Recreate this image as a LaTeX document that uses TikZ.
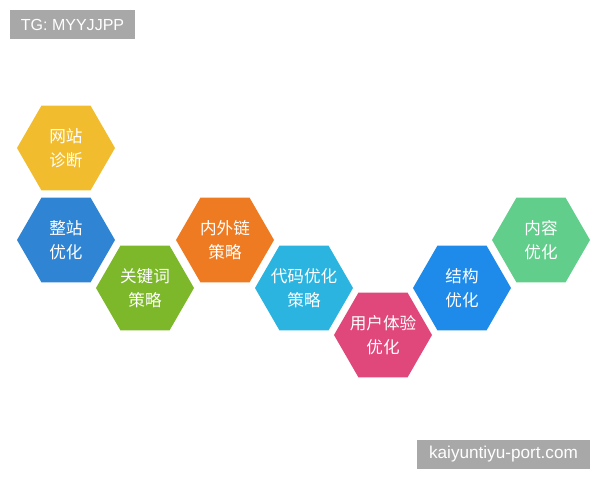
\documentclass[tikz,border=0pt]{standalone}
\usepackage{fontspec}
\setmainfont{Liberation Sans}
\newfontfamily\cjk{Noto Sans CJK SC}
\usetikzlibrary{shapes.geometric}

\definecolor{hexyellow}{HTML}{F1BD2E}
\definecolor{hexblue}{HTML}{2F85D3}
\definecolor{hexgreen}{HTML}{7CB82A}
\definecolor{hexorange}{HTML}{EE7B21}
\definecolor{hexcyan}{HTML}{2CB4E0}
\definecolor{hexpink}{HTML}{E0487B}
\definecolor{hexazure}{HTML}{1E8BEA}
\definecolor{hexmint}{HTML}{62CE8C}
\definecolor{tagbg}{HTML}{A8A8A8}

% two centred lines that do not widen the hexagon
\newcommand\hexlines[2]{\makebox[0pt]{#1}\\\makebox[0pt]{#2}}

\begin{document}
\begin{tikzpicture}[x=0.025cm,y=-0.025cm,
	hex/.style={regular polygon,regular polygon sides=6,minimum size=2.45cm,
		inner sep=0pt,outer sep=0pt,draw=none,text=white,align=center,
		font=\cjk\fontsize{11.8}{17}\selectfont},
	tag/.style={fill=tagbg,text=white,inner sep=0pt,
		minimum height=0.725cm,font=\fontsize{11.4}{13}\selectfont}]

\useasboundingbox (0,0) rectangle (600,480);

%\draw[gray!30] (0,0) grid[step=50] (600,480);

\def\pA{(66,148)}  % top left
\def\pB{(66,240)}
\def\pC{(145,288)}
\def\pD{(225,240)}
\def\pE{(304,288)}
\def\pF{(383,335)} % lowest
\def\pG{(462,288)}
\def\pH{(541,240)}

\node[hex,fill=hexyellow] (diag) at \pA {\hexlines{网站}{诊断}};
\node[hex,fill=hexblue]   (site) at \pB {\hexlines{整站}{优化}};
\node[hex,fill=hexgreen]  (kw)   at \pC {\hexlines{关键词}{策略}};
\node[hex,fill=hexorange] (link) at \pD {\hexlines{内外链}{策略}};
\node[hex,fill=hexcyan]   (code) at \pE {\hexlines{代码优化}{策略}};
\node[hex,fill=hexpink]   (ux)   at \pF {\hexlines{用户体验}{优化}};
\node[hex,fill=hexazure]  (struct) at \pG {\hexlines{结构}{优化}};
\node[hex,fill=hexmint]   (content) at \pH {\hexlines{内容}{优化}};

% watermarks
\node[tag,minimum width=3.125cm] (tg)  at (72.5,24.5) {TG: MYYJJPP};
\node[tag,minimum width=4.325cm,font=\fontsize{12.2}{14}\selectfont] (url) at (503.5,454.5) {kaiyuntiyu-port.com};

\end{tikzpicture}
\end{document}
